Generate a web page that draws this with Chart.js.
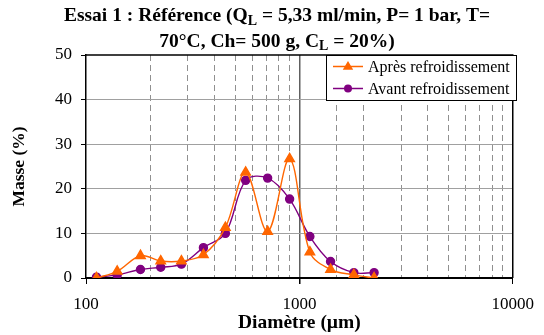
<!DOCTYPE html>
<html>
<head>
<meta charset="utf-8">
<script src="https://cdn.jsdelivr.net/npm/chart.js@4.4.1/dist/chart.umd.min.js"></script>
<style>
    html, body { margin: 0; padding: 0; background: #fff; }
    #wrap { width: 544px; height: 335px; position: relative; }
</style>
</head>
<body>
<div id="wrap"><canvas id="chartGranulo"></canvas></div>
<script>
// granulométrie : diamètre des tamis (µm) et masse retenue (%)
const diametres = [112, 140, 180, 224, 280, 355, 450, 560, 710, 900, 1120, 1400, 1800, 2240];
const masseApres = [0, 1.5, 5.0, 3.8, 3.8, 5.2, 11.3, 23.7, 10.4, 26.7, 5.8, 1.9, 0.7, 0];
const masseAvant = [0.2, 0.7, 1.9, 2.4, 3.1, 6.8, 10.0, 21.9, 22.4, 17.7, 9.3, 3.7, 1.2, 1.2];
const graduationsX = [100, 1000, 10000];
const serieLabels = ['Après refroidissement', 'Avant refroidissement'];
const serieCouleurs = ['#FF6600', '#800080'];

const SERIF = "'Liberation Serif', 'Times New Roman', serif";

const titreLignes = [
    [['Essai 1 : Référence (Q', false], ['L', true], [' = 5,33 ml/min, P= 1 bar, T=', false]],
    [['70°C, Ch= 500 g, C', false], ['L', true], [' = 20%)', false]]
];

function marqueur(ctx, style, x, y, r, couleur) {
    ctx.fillStyle = couleur;
    ctx.beginPath();
    if (style === 'triangle') {
        ctx.moveTo(x, y - r);
        ctx.lineTo(x + r * 0.95, y + r * 0.6);
        ctx.lineTo(x - r * 0.95, y + r * 0.6);
        ctx.closePath();
    } else {
        ctx.arc(x, y, r, 0, Math.PI * 2);
    }
    ctx.fill();
}

// titre avec indices, cadre du tracé et légende encadrée
const cadrePlugin = {
    id: 'cadre',
    afterDraw(chart) {
        const { ctx, chartArea: a } = chart;
        ctx.save();

        ctx.strokeStyle = '#000';
        ctx.lineWidth = 1.5;
        ctx.beginPath();
        ctx.moveTo(a.left, a.top);
        ctx.lineTo(a.right, a.top);
        ctx.lineTo(a.right, a.bottom);
        ctx.stroke();

        // titre
        ctx.fillStyle = '#000';
        ctx.textBaseline = 'alphabetic';
        const fNormal = 'bold 19.5px ' + SERIF;
        const fIndice = 'bold 14px ' + SERIF;
        const baselines = [21, 46.5];
        titreLignes.forEach((ligne, i) => {
            let total = 0;
            ligne.forEach(([t, sub]) => {
                ctx.font = sub ? fIndice : fNormal;
                total += ctx.measureText(t).width;
            });
            let x = 277 - total / 2;
            ligne.forEach(([t, sub]) => {
                ctx.font = sub ? fIndice : fNormal;
                ctx.textAlign = 'left';
                ctx.fillText(t, x, baselines[i] + (sub ? 3.5 : 0));
                x += ctx.measureText(t).width;
            });
        });

        // légende
        const lx = 326, ly = a.top, lw = 190, lh = 45;
        ctx.fillStyle = '#fff';
        ctx.fillRect(lx, ly, lw, lh);
        ctx.strokeStyle = '#000';
        ctx.lineWidth = 1;
        ctx.strokeRect(lx + 0.5, ly + 0.5, lw, lh);
        chart.data.datasets.forEach((ds, i) => {
            const y = ly + 11.5 + i * 22;
            ctx.strokeStyle = ds.borderColor;
            ctx.lineWidth = 1.5;
            ctx.beginPath();
            ctx.moveTo(lx + 7, y);
            ctx.lineTo(lx + 37, y);
            ctx.stroke();
            marqueur(ctx, ds.pointStyle, lx + 22, y, ds.pointRadius, ds.borderColor);
            ctx.fillStyle = '#000';
            ctx.font = '16px ' + SERIF;
            ctx.textAlign = 'left';
            ctx.textBaseline = 'middle';
            ctx.fillText(ds.label, lx + 42, y + 1);
        });

        ctx.restore();
    }
};

new Chart(document.getElementById('chartGranulo').getContext('2d'), {
    type: 'line',
    data: {
        labels: diametres,
        datasets: [
            {
                label: serieLabels[0],
                data: diametres.map((d, i) => ({ x: d, y: masseApres[i] })),
                borderColor: serieCouleurs[0],
                backgroundColor: serieCouleurs[0],
                borderWidth: 1.4,
                pointStyle: 'triangle',
                pointRadius: 5.5,
                tension: 0.35
            },
            {
                label: serieLabels[1],
                data: diametres.map((d, i) => ({ x: d, y: masseAvant[i] })),
                borderColor: serieCouleurs[1],
                backgroundColor: serieCouleurs[1],
                borderWidth: 1.4,
                pointStyle: 'circle',
                pointRadius: 4,
                tension: 0.35
            }
        ]
    },
    options: {
        responsive: true,
        maintainAspectRatio: false,
        animation: false,
        layout: { padding: { top: 55, right: 26, left: 0, bottom: 0 } },
        plugins: {
            legend: { display: false },
            title: { display: false },
            tooltip: { enabled: false }
        },
        scales: {
            x: {
                type: 'logarithmic',
                min: 100,
                max: 10000,
                afterFit: (s) => { s.height = 57; },
                border: {
                    color: '#000',
                    width: 2,
                    dash: (c) => (c.tick && !graduationsX.includes(c.tick.value)) ? [6, 4] : []
                },
                grid: {
                    color: (c) => {
                        if (!c.tick) return '#909090';
                        if (c.tick.value === 1000) return '#606060';
                        if (c.tick.value === 100 || c.tick.value === 10000) return 'rgba(0,0,0,0)';
                        return '#909090';
                    },
                    lineWidth: (c) => (c.tick && c.tick.value === 1000) ? 1.5 : 1,
                    tickColor: (c) => (c.tick && graduationsX.includes(c.tick.value)) ? '#000' : 'rgba(0,0,0,0)',
                    tickLength: 6
                },
                ticks: {
                    autoSkip: false,
                    maxRotation: 0,
                    padding: 10,
                    color: '#000',
                    font: { family: SERIF, size: 17 },
                    callback: (v) => graduationsX.includes(v) ? String(v) : ''
                },
                title: {
                    display: true,
                    text: 'Diamètre (µm)',
                    color: '#000',
                    font: { family: SERIF, size: 19.5, weight: 'bold' },
                    padding: { top: 0, bottom: 0 }
                }
            },
            y: {
                min: 0,
                max: 50,
                afterFit: (s) => { s.width = 86; },
                border: { color: '#000', width: 1.5 },
                grid: {
                    color: (c) => (c.tick && (c.tick.value === 0 || c.tick.value === 50)) ? 'rgba(0,0,0,0)' : '#a0a0a0',
                    tickColor: '#000',
                    tickLength: 5
                },
                ticks: {
                    stepSize: 10,
                    padding: 9,
                    color: '#000',
                    font: { family: SERIF, size: 17 }
                },
                title: {
                    display: true,
                    text: 'Masse (%)',
                    color: '#000',
                    font: { family: SERIF, size: 17.5, weight: 'bold' },
                    padding: { top: 9, bottom: 0 }
                }
            }
        }
    },
    plugins: [cadrePlugin]
});
</script>
</body>
</html>
